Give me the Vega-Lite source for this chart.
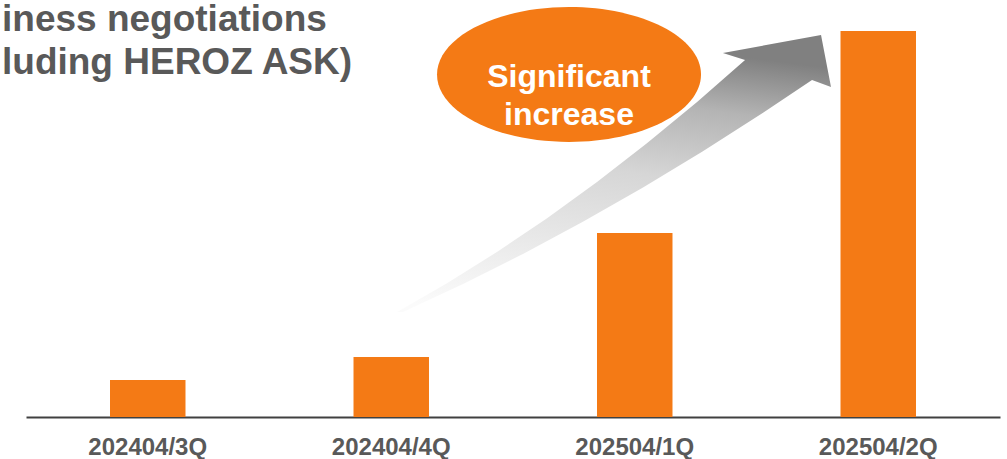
{
  "$schema": "https://vega.github.io/schema/vega-lite/v6.json",
  "width": 974,
  "height": 417,
  "autosize": {"type": "none"},
  "padding": {"left": 26, "top": 0, "right": 7, "bottom": 42},
  "background": "#ffffff",
  "config": {"view": {"stroke": null}, "font": "Liberation Sans"},
  "title": {
    "text": ["iness negotiations", "luding HEROZ ASK)"],
    "anchor": "start",
    "frame": "group",
    "orient": "top",
    "offset": -111,
    "baseline": "alphabetic",
    "dx": -24,
    "font": "Liberation Sans",
    "fontSize": 37,
    "fontWeight": "bold",
    "color": "#595959",
    "lineHeight": 43
  },
  "datasets": {
    "bars": [
      {"quarter": "202404/3Q", "value": 37},
      {"quarter": "202404/4Q", "value": 60},
      {"quarter": "202504/1Q", "value": 184},
      {"quarter": "202504/2Q", "value": 386}
    ],
    "arrow": [
      {"k": 1, "i": 1.024, "v": 105},
      {"k": 2, "i": 1.229, "v": 133.75},
      {"k": 3, "i": 1.434, "v": 165},
      {"k": 4, "i": 1.640, "v": 198.75},
      {"k": 5, "i": 1.845, "v": 235},
      {"k": 6, "i": 2.050, "v": 273.75},
      {"k": 7, "i": 2.256, "v": 315},
      {"k": 8, "i": 2.453, "v": 357},
      {"k": 9, "i": 2.362, "v": 364},
      {"k": 10, "i": 2.765, "v": 382},
      {"k": 11, "i": 2.806, "v": 330},
      {"k": 12, "i": 2.728, "v": 337},
      {"k": 13, "i": 2.527, "v": 304.2},
      {"k": 14, "i": 2.280, "v": 265.8},
      {"k": 15, "i": 2.034, "v": 229.5},
      {"k": 16, "i": 1.787, "v": 195.3},
      {"k": 17, "i": 1.541, "v": 163.1},
      {"k": 18, "i": 1.295, "v": 133},
      {"k": 19, "i": 1.048, "v": 105}
    ],
    "ellipse": [
      {"i": 1.73, "v": 342.5, "label": "Significant\nincrease"}
    ]
  },
  "layer": [
    {
      "data": {"name": "bars"},
      "mark": {"type": "bar", "color": "#F47A15"},
      "encoding": {
        "x": {
          "field": "quarter",
          "type": "nominal",
          "sort": null,
          "scale": {"paddingInner": 0.69, "paddingOuter": 0.345},
          "axis": {
            "title": null,
            "labelAngle": 0,
            "ticks": false,
            "tickSize": 0,
            "labelPadding": 18,
            "labelFont": "Liberation Sans",
            "labelFontSize": 24,
            "labelFontWeight": "bold",
            "labelColor": "#595959",
            "domainColor": "#404040",
            "domainWidth": 2,
            "grid": false
          }
        },
        "y": {
          "field": "value",
          "type": "quantitative",
          "scale": {"domain": [0, 417], "nice": false},
          "axis": null
        }
      }
    },
    {
      "data": {"name": "arrow"},
      "mark": {
        "type": "line",
        "interpolate": "linear",
        "stroke": null,
        "strokeWidth": 0,
        "fill": {
          "gradient": "linear",
          "x1": 0.2, "y1": 1, "x2": 0.4, "y2": 0,
          "stops": [
            {"offset": 0, "color": "#fbfbfb"},
            {"offset": 0.55, "color": "#d6d6d6"},
            {"offset": 0.8, "color": "#b4b4b4"},
            {"offset": 1, "color": "#808080"}
          ]
        }
      },
      "encoding": {
        "x": {
          "field": "i",
          "type": "quantitative",
          "scale": {"domain": [-0.5, 3.5], "nice": false, "zero": false},
          "axis": null
        },
        "y": {
          "field": "v",
          "type": "quantitative",
          "scale": {"domain": [0, 417], "nice": false},
          "axis": null
        },
        "order": {"field": "k", "type": "quantitative"}
      }
    },
    {
      "data": {"name": "ellipse"},
      "mark": {
        "type": "point",
        "shape": "M -1 0 A 1 0.511 0 1 1 1 0 A 1 0.511 0 1 1 -1 0 Z",
        "size": 69696,
        "filled": true,
        "color": "#F47A15",
        "opacity": 1,
        "strokeWidth": 0
      },
      "encoding": {
        "x": {
          "field": "i",
          "type": "quantitative",
          "scale": {"domain": [-0.5, 3.5], "nice": false, "zero": false},
          "axis": null
        },
        "y": {
          "field": "v",
          "type": "quantitative",
          "scale": {"domain": [0, 417], "nice": false},
          "axis": null
        }
      }
    },
    {
      "data": {"name": "ellipse"},
      "mark": {
        "type": "text",
        "font": "Liberation Sans",
        "fontSize": 32,
        "fontWeight": "bold",
        "color": "#ffffff",
        "lineBreak": "\n",
        "lineHeight": 38,
        "baseline": "middle",
        "align": "center",
        "dy": 2
      },
      "encoding": {
        "x": {
          "field": "i",
          "type": "quantitative",
          "scale": {"domain": [-0.5, 3.5], "nice": false, "zero": false},
          "axis": null
        },
        "y": {
          "field": "v",
          "type": "quantitative",
          "scale": {"domain": [0, 417], "nice": false},
          "axis": null
        },
        "text": {"field": "label"}
      }
    }
  ],
  "resolve": {"scale": {"x": "independent"}}
}
